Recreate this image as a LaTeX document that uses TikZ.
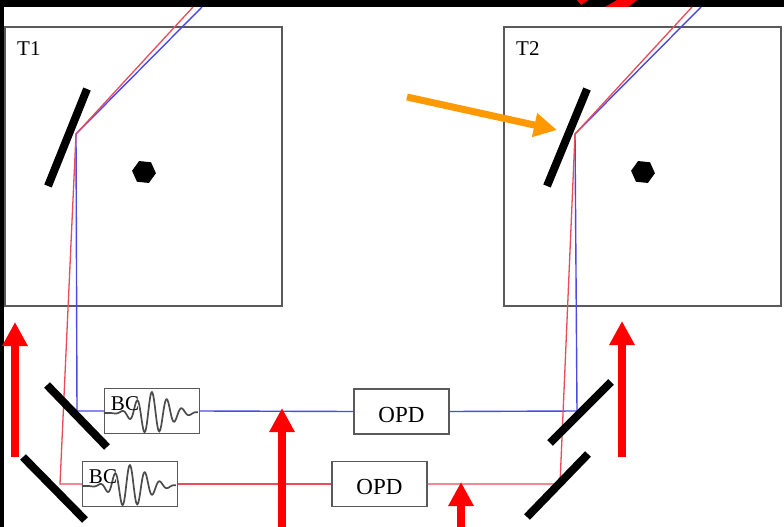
\documentclass[tikz,border=0pt]{standalone}
\usepackage{fontspec}
\setmainfont{Liberation Serif}
\usetikzlibrary{arrows.meta,shapes.geometric}
\definecolor{Frame}{HTML}{5A5A5A}
\definecolor{BeamRed}{HTML}{EA4A5A}
\definecolor{BeamBlue}{HTML}{4A4AE6}
\definecolor{MarkRed}{HTML}{FF0000}
\definecolor{MarkOrange}{HTML}{FF9900}
\tikzset{
  telbox/.style={draw=Frame,line width=1.2pt,minimum width=277pt,minimum height=279pt,inner sep=0pt},
  delaybox/.style={draw=Frame,fill=white,line width=1.2pt,minimum width=95pt,minimum height=45pt,inner sep=0pt,text height=21pt,text depth=0pt,font=\fontsize{23}{25}\selectfont},
  tellabel/.style={inner sep=0pt,font=\fontsize{21}{23}\selectfont},
  bclabel/.style={inner sep=0pt,font=\fontsize{21}{23}\selectfont},
  mirror/.style={line width=8pt,black},
  redbeam/.style={BeamRed,line width=1.3pt},
  bluebeam/.style={BeamBlue,line width=1.4pt},
  markup/.style={MarkRed,line width=8.5pt,-{Triangle[length=24pt,width=24pt]}},
  wave/.style={black!70,line width=1.7pt,smooth},
  telspot/.style={regular polygon,regular polygon sides=6,fill=black,minimum size=24pt,inner sep=0pt,rotate=-6}
}
\newcommand{\wavepacket}[1]{\draw[wave,shift={(#1)},domain=0:94,samples=140] plot (\x,{2-21*exp(-((\x-46)/(\x<46?18:26))^2)*cos(24*(\x-48))});}
\begin{document}
\begin{tikzpicture}[x=1pt,y=-1pt]
\useasboundingbox (0,0) rectangle (784,527);
\fill[white] (0,0) rectangle (784,527);
\fill[black] (0,0) rectangle (784,7);
\fill[black] (0,0) rectangle (4,527);
\fill[MarkRed] (577,0) -- (588,0) -- (581,5) -- cycle;
\fill[MarkRed] (605,7) -- (617,0) -- (637,0) -- (628,7) -- cycle;
\node[telbox] (t1) at (143.5,166.5) {};
\node[telbox] (t2) at (642.5,166.5) {};
\node[tellabel,anchor=west] (t1label) at (17,49) {T1};
\node[tellabel,anchor=west] (t2label) at (516,49) {T2};
\node[delaybox] (bc1) at (152,411) {};
\node[delaybox] (bc2) at (130,484) {};
\node[delaybox] (opd1) at (401.5,411.5) {OPD};
\node[delaybox] (opd2) at (379.5,484) {OPD};
\coordinate (t1redin) at (193,7);
\coordinate (t1bluein) at (202,7);
\coordinate (t1fold) at (76,134);
\coordinate (t2redin) at (692,7);
\coordinate (t2bluein) at (701,7);
\coordinate (t2fold) at (575,134);
\coordinate (blueleft) at (77,411);
\coordinate (redleft) at (60,484);
\coordinate (blueright) at (577,411);
\coordinate (redright) at (560,484);
\draw[bluebeam] (t1bluein) -- (t1fold) -- (blueleft) -- (bc1.west);
\draw[bluebeam] (bc1.east) -- (opd1.west);
\draw[bluebeam] (opd1.east) -- (blueright) -- (t2fold) -- (t2bluein);
\draw[redbeam] (t1redin) -- (t1fold) -- (redleft) -- (bc2.west);
\draw[redbeam] (bc2.east) -- (opd2.west);
\draw[redbeam] (opd2.east) -- (redright) -- (t2fold) -- (t2redin);
\wavepacket{bc1.west}
\wavepacket{bc2.west}
\node[bclabel] (bc1label) at (125,404) {BC};
\node[bclabel] (bc2label) at (103,477) {BC};
\draw[mirror] (87,89) -- (48,186);
\draw[mirror] (587,89) -- (547,186);
\draw[mirror] (47,385) -- (107,447);
\draw[mirror] (23,457) -- (85,520);
\draw[mirror] (611,382) -- (550,443);
\draw[mirror] (588,454) -- (527,517);
\node[telspot] (t1dot) at (144,172) {};
\node[telspot] (t2dot) at (643,172) {};
\coordinate (a1from) at (15,457);
\coordinate (a1to) at (15,322);
\coordinate (a2from) at (282,527);
\coordinate (a2to) at (282,408);
\coordinate (a3from) at (622,457);
\coordinate (a3to) at (622,321);
\coordinate (a4from) at (461,527);
\coordinate (a4to) at (461,482);
\coordinate (a5from) at (407,97);
\coordinate (a5to) at (557,130);
\draw[markup] (a1from) -- (a1to);
\draw[markup] (a2from) -- (a2to);
\draw[markup] (a3from) -- (a3to);
\draw[markup] (a4from) -- (a4to);
\draw[MarkOrange,line width=7pt,-{Triangle[length=23pt,width=23pt]}] (a5from) -- (a5to);
\end{tikzpicture}
\end{document}
